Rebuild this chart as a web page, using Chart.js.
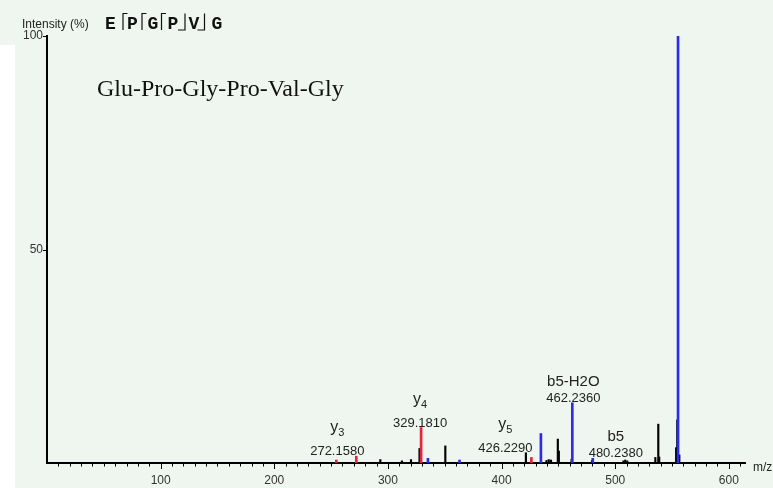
<!DOCTYPE html>
<html>
<head>
<meta charset="utf-8">
<title>Glu-Pro-Gly-Pro-Val-Gly MS/MS spectrum</title>
<script src="https://cdn.jsdelivr.net/npm/chart.js@4/dist/chart.umd.min.js"></script>
<style>
  html, body { margin: 0; padding: 0; background: #ffffff; }
  canvas { display: block; }
</style>
</head>
<body>
<canvas id="spectrum" width="773" height="488"></canvas>
<script>
// Fragment peaks (m/z, relative intensity %)
const blackMz  = [293.3, 312.3, 320.3, 327.8, 350.5, 421.4, 439.5, 441.5, 443.5, 449.5, 450.4, 461.6, 479.6, 507.2, 508.8, 510.6, 535.3, 537.9, 538.7, 553.6, 554.6, 556.4];
const blackInt = [0.8,   0.5,   0.8,   3.4,   4.0,   2.4,   0.6,   0.8,   0.7,   5.6,   2.8,   0.9,   0.6,   0.5,   0.7,   0.5,   1.3,   9.1,   1.4,   3.6,   10.1,  1.9];
const redMz    = [254.6, 272.1580, 329.1810, 426.2290];
const redInt   = [0.7,   1.6,      8.3,      1.3];
const blueMz   = [335.2, 363.0, 434.6, 462.2360, 480.2380, 555.28];
const blueInt  = [1.1,   0.7,   6.9,   14.1,     1.1,      100];

// Axis ticks
const xTickLabels = [100, 200, 300, 400, 500, 600];
const yTickLabels = [50, 100];

// Annotated fragment ions
const ionNames = ['y', 'y', 'y', 'b5-H2O', 'b5'];
const ionSubs  = ['3', '4', '5', '', ''];
const ionMz    = [272.1580, 329.1810, 426.2290, 462.2360, 480.2380];
const ionShift = [-19, -1, -26, 1, 23];   // horizontal nudge (px) to keep labels apart

// Peptide sequence with fragment markers
const residues = ['E', 'P', 'G', 'P', 'V', 'G'];
const cleavageKind = ['b', 'b', 'b', 'y', 'y'];

const SANS = '"Liberation Sans", Arial, sans-serif';

function toPoints(mz, inten) {
  return mz.map((m, i) => ({ x: m, y: inten[i] }));
}

const allPeaks = toPoints(blackMz, blackInt).concat(toPoints(redMz, redInt), toPoints(blueMz, blueInt));

const backgroundPlugin = {
  id: 'panelBackground',
  beforeDraw(chart) {
    const c = chart.ctx;
    c.save();
    c.fillStyle = '#eef6ef';
    c.fillRect(0, 0, chart.width, chart.height);
    c.fillStyle = '#ffffff';
    c.fillRect(0, 45, 15, chart.height - 45);
    c.restore();
  }
};

const axisDecorPlugin = {
  id: 'axisDecor',
  afterDraw(chart) {
    const c = chart.ctx;
    const xs = chart.scales.x, ys = chart.scales.y;
    const base = chart.chartArea.bottom;
    const left = chart.chartArea.left;
    c.save();
    c.strokeStyle = '#000';
    c.lineWidth = 1;
    // x tick marks: every 10, longer every 100
    for (let v = 10; v <= xs.max; v += 10) {
      const px = Math.round(xs.getPixelForValue(v)) + 0.5;
      c.beginPath();
      c.moveTo(px, base);
      c.lineTo(px, v % 100 === 0 ? base + 6 : base + 3.5);
      c.stroke();
    }
    // y tick marks
    yTickLabels.forEach(v => {
      const py = Math.round(ys.getPixelForValue(v)) + 0.5;
      c.beginPath();
      c.moveTo(left - 4, py);
      c.lineTo(left + 1, py);
      c.stroke();
    });
    // axis titles
    c.fillStyle = '#222';
    c.font = '12px ' + SANS;
    c.textAlign = 'left';
    c.textBaseline = 'alphabetic';
    c.fillText('Intensity (%)', 22, 28);
    c.fillText('m/z', 753, 471);

    // peptide sequence with fragment markers
    c.font = 'bold 18px "Liberation Mono", "Courier New", monospace';
    c.textAlign = 'center';
    c.fillStyle = '#111';
    const letterX = [110.5, 132.5, 153, 173, 194, 217];
    residues.forEach((r, i) => c.fillText(r, letterX[i], 28.5));
    const markX = [123, 142, 161.5, 185, 204.5];
    c.lineWidth = 1.2;
    c.strokeStyle = '#111';
    cleavageKind.forEach((k, i) => {
      const x = markX[i];
      c.beginPath();
      if (k === 'b') {
        c.moveTo(x + 4.5, 13.5);
        c.lineTo(x, 13.5);
        c.lineTo(x, 30);
      } else {
        c.moveTo(x, 13.5);
        c.lineTo(x, 30);
        c.lineTo(x - 7, 30);
      }
      c.stroke();
    });

    // peptide name
    c.font = '24px "Liberation Serif", "Times New Roman", serif';
    c.textAlign = 'left';
    c.fillStyle = '#111';
    c.fillText('Glu-Pro-Gly-Pro-Val-Gly', 97, 96);
    c.restore();
  }
};

const ionLabelPlugin = {
  id: 'ionLabels',
  afterDatasetsDraw(chart) {
    const c = chart.ctx;
    const xs = chart.scales.x, ys = chart.scales.y;
    c.save();
    c.fillStyle = '#222';
    c.textBaseline = 'alphabetic';
    ionMz.forEach((mz, i) => {
      const cx = xs.getPixelForValue(mz) + ionShift[i];
      const numText = mz.toFixed(4);
      c.font = '13px ' + SANS;
      const w = c.measureText(numText).width;
      // sit the value just above the tallest peak under the text
      let top = ys.getPixelForValue(0);
      allPeaks.forEach(p => {
        const px = xs.getPixelForValue(p.x);
        if (px >= cx - w / 2 - 1 && px <= cx + w / 2 + 1) {
          top = Math.min(top, ys.getPixelForValue(p.y));
        }
      });
      const numBase = top - 1;
      c.textAlign = 'center';
      c.fillText(numText, cx, numBase);
      if (ionSubs[i]) {
        c.font = '16px ' + SANS;
        const wm = c.measureText(ionNames[i]).width;
        c.font = '11px ' + SANS;
        const ws = c.measureText(ionSubs[i]).width;
        const x0 = cx - (wm + ws) / 2;
        c.textAlign = 'left';
        c.font = '16px ' + SANS;
        c.fillText(ionNames[i], x0, numBase - 23);
        c.font = '11px ' + SANS;
        c.fillText(ionSubs[i], x0 + wm, numBase - 19);
      } else {
        c.font = '15px ' + SANS;
        c.textAlign = 'center';
        c.fillText(ionNames[i], cx, numBase - 16);
      }
    });
    c.restore();
  }
};

new Chart(document.getElementById('spectrum'), {
  type: 'bar',
  data: {
    datasets: [
      { label: 'precursor / b ions', data: toPoints(blueMz, blueInt), backgroundColor: '#2b2bf0', barThickness: 2 },
      { label: 'y ions', data: toPoints(redMz, redInt), backgroundColor: '#e8243a', barThickness: 2 },
      { label: 'unassigned', data: toPoints(blackMz, blackInt), backgroundColor: '#000000', barThickness: 1.5 }
    ]
  },
  options: {
    responsive: false,
    devicePixelRatio: 1,
    animation: false,
    grouped: false,
    layout: { padding: { top: 36, right: 28, left: 0, bottom: 0 } },
    plugins: { legend: { display: false }, tooltip: { enabled: false } },
    scales: {
      x: {
        type: 'linear',
        min: 0,
        max: 614.2,
        offset: false,
        grid: { display: false, drawTicks: false, offset: false },
        border: { display: true, color: '#000', width: 2 },
        ticks: {
          stepSize: 100,
          includeBounds: false,
          autoSkip: false,
          maxRotation: 0,
          padding: 10,
          color: '#333',
          font: { family: SANS, size: 12 },
          callback: v => xTickLabels.includes(v) ? String(v) : ''
        },
        afterFit(s) { s.height = 25; }
      },
      y: {
        min: 0,
        max: 100,
        grid: { display: false, drawTicks: false },
        border: { display: true, color: '#000', width: 2 },
        ticks: {
          stepSize: 50,
          padding: 4,
          color: '#333',
          font: { family: SANS, size: 12 },
          callback: v => yTickLabels.includes(v) ? String(v) : ''
        },
        afterFit(s) { s.width = 47; }
      }
    }
  },
  plugins: [backgroundPlugin, axisDecorPlugin, ionLabelPlugin]
});
</script>
</body>
</html>
